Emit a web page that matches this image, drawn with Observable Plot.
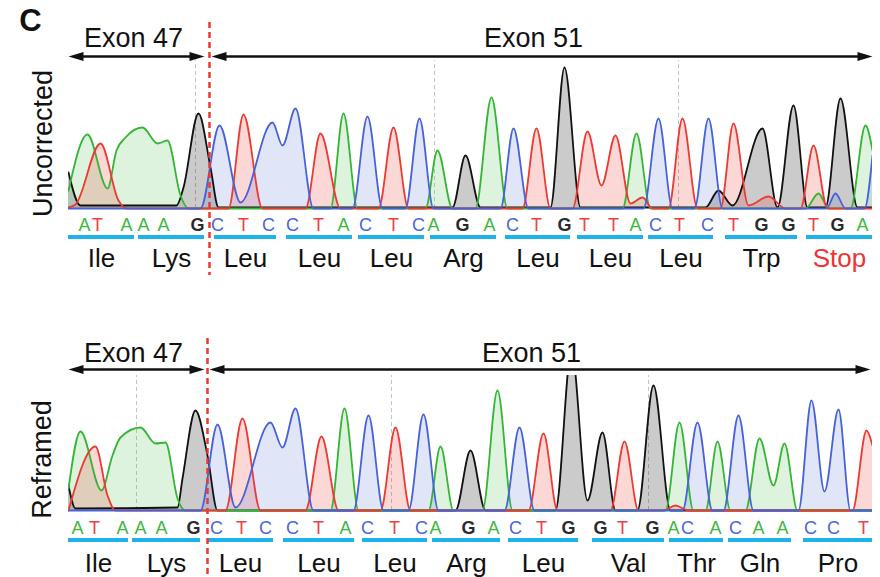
<!DOCTYPE html>
<html><head><meta charset="utf-8">
<script src="https://cdn.jsdelivr.net/npm/d3@7"></script>
<script src="https://cdn.jsdelivr.net/npm/@observablehq/plot@0.6"></script>
<style>body{margin:0;background:#fff;} #chart svg{display:block;}</style>
</head><body><div id="chart"></div>
<script>
// ---------- DATA (scan position, signal intensity) ----------
// Uncorrected trace
const topTraceA = [[0,18],[19,74],[39,20],[48,58],[57,71],[74,81],[89,65],[99,68],[112,13],[120,0],[262,0],[275,95],[289,0],[357,0],[369,58],[384,0],[407,0],[423,111],[439,0],[554,0],[568,75],[582,0],[737,0],[750,15],[760,0],[782,0],[797,83],[804,58]];
const topTraceT = [[0,1],[7,4],[32,65],[50,8],[58,0],[160,0],[175,94],[194,0],[237,0],[252,75],[272,0],[310,0],[325,81],[340,0],[454,0],[468,80],[482,0],[504,0],[519,77],[533,23],[547,73],[562,5],[574,11],[584,0],[600,0],[614,90],[629,0],[652,0],[665,85],[680,3],[700,12],[717,0],[732,0],[745,63],[759,0],[804,0]];
const topTraceC = [[0,0],[132,0],[151,83],[172,6],[204,86],[214,63],[227,100],[245,0],[284,0],[299,92],[314,0],[337,0],[351,90],[365,0],[432,0],[445,80],[460,0],[575,0],[590,90],[604,0],[626,0],[640,90],[654,0],[758,0],[767,15],[777,0],[796,0],[804,53]];
const topTraceG = [[0,36],[12,3],[108,3],[115,21],[130,95],[142,41],[150,1],[384,1],[397,53],[412,1],[482,1],[496,141],[512,1],[637,1],[650,18],[664,3],[694,80],[709,1],[725,103],[739,1],[757,1],[772,110],[789,1],[804,1]];
const topBases = "ATAAAGCTCCTACTCAGACTGTTACTCTGGTGA";
const topBasePos = [16,29,58,75,95,129,149,175,200,224,250,275,297,325,350,365,394,421,444,468,496,516,545,567,587,611,639,665,693,720,745,769,794];
const topAmino = ["Ile","Lys","Leu","Leu","Leu","Arg","Leu","Leu","Leu","Trp","Stop"];
const topCodonStart = [0,70,146,218,290,362,437,509,580,657,738];
const topCodonEnd = [66,136,208,284,356,428,502,575,645,729,804];
const topExonNames = ["Exon 47","Exon 51"];
const topExonStart = [0,143];
const topExonEnd = [136,804];
const topGuides = [127,366,610];
const topJunction = 141;

// Reframed trace
const botTraceA = [[0,22],[12,79],[33,20],[44,55],[52,73],[72,83],[87,67],[97,68],[109,12],[117,0],[262,0],[276,102],[290,0],[360,0],[372,64],[385,0],[414,0],[429,120],[444,0],[597,0],[611,88],[625,0],[637,0],[649,69],[662,0],[677,0],[691,72],[705,25],[716,67],[729,0],[804,0]];
const botTraceT = [[0,0],[27,64],[39,15],[47,0],[157,0],[174,92],[192,0],[237,0],[253,74],[270,0],[312,0],[327,83],[342,0],[460,0],[475,77],[489,0],[542,0],[556,69],[570,0],[595,0],[607,5],[620,0],[784,0],[798,80],[804,65]];
const botTraceC = [[0,0],[132,0],[149,86],[167,3],[202,88],[214,63],[227,102],[245,0],[285,0],[300,95],[315,0],[340,0],[355,96],[370,0],[436,0],[451,83],[466,0],[614,0],[629,88],[644,0],[655,0],[670,95],[685,0],[730,0],[743,110],[756,19],[770,101],[782,0],[804,0]];
const botTraceG = [[0,25],[7,2],[109,3],[114,32],[127,100],[139,55],[149,0],[387,0],[402,60],[417,0],[487,0],[503,160],[519,10],[534,78],[547,0],[569,0],[585,125],[602,0],[804,0]];
const botBases = "ATAAAGCTCCTACTCAGACTGGTGACACAACCT";
const botBasePos = [9,26,54,72,93,125,148,173,197,224,250,277,299,326,353,367,400,425,447,473,500,532,554,584,605,619,647,667,690,714,742,765,795];
const botAmino = ["Ile","Lys","Leu","Leu","Leu","Arg","Leu","Val","Thr","Gln","Pro"];
const botCodonStart = [0,64,139,215,294,364,440,524,601,660,735];
const botCodonEnd = [60,132,205,286,359,432,510,596,655,723,804];
const botExonNames = ["Exon 47","Exon 51"];
const botExonStart = [0,141];
const botExonEnd = [136,802];
const botGuides = [68,323,580];
const botJunction = 139;

// ---------- STYLE ----------
const lineColor = {A:"#35b535", T:"#ec3a32", C:"#4762d8", G:"#111111"};
const fillOpacity = {A:0.17, T:0.2, C:0.17, G:0.22};
const letterColor = {A:"#3cb83c", T:"#ee4040", C:"#4a66dc", G:"#2a2a2a"};
const FONT = "Liberation Sans, Arial, Helvetica, sans-serif";

const rightHead = {draw(ctx){ctx.moveTo(0,0);ctx.lineTo(-15,-4.5);ctx.lineTo(-15,4.5);ctx.closePath();}};
const leftHead = {draw(ctx){ctx.moveTo(0,0);ctx.lineTo(15,-4.5);ctx.lineTo(15,4.5);ctx.closePath();}};

function panel(cfg) {
  const traces = [["G", cfg.G], ["A", cfg.A], ["T", cfg.T], ["C", cfg.C]];
  const bases = cfg.bases.split("").map((b, i) => ({base: b, pos: cfg.basePos[i]}));
  const codons = cfg.amino.map((a, i) => ({aa: a, x1: cfg.codonStart[i], x2: cfg.codonEnd[i]}));
  const exons = cfg.exonNames.map((n, i) => ({name: n, x1: cfg.exonStart[i], x2: cfg.exonEnd[i]}));
  const marks = [];
  marks.push(Plot.ruleX(cfg.guides, {y1: 0, y2: cfg.ymax, stroke: "#c4c4c4", strokeWidth: 1, strokeDasharray: "4,3"}));
  for (const [b, pts] of traces) {
    marks.push(Plot.areaY(pts, {x: d => d[0], y: d => d[1], curve: "monotone-x", fill: lineColor[b], fillOpacity: fillOpacity[b], clip: true}));
  }
  for (const [b, pts] of traces) {
    marks.push(Plot.line(pts, {x: d => d[0], y: d => d[1], curve: "monotone-x", stroke: lineColor[b], strokeWidth: 1.8, clip: true}));
  }
  marks.push(Plot.text(bases.filter(d => d.base !== "G"), {x: "pos", y: cfg.rowBase, text: "base", fill: d => letterColor[d.base], fontSize: 18, fontFamily: FONT}));
  marks.push(Plot.text(bases.filter(d => d.base === "G"), {x: "pos", y: cfg.rowBase, text: "base", fill: d => letterColor[d.base], fontSize: 18, fontWeight: "bold", fontFamily: FONT}));
  marks.push(Plot.ruleY(codons, {x1: "x1", x2: "x2", y: cfg.rowBar, stroke: "#1cb2ea", strokeWidth: 4}));
  marks.push(Plot.text(codons, {x: d => (d.x1 + d.x2) / 2, y: cfg.rowAmino, text: "aa", fill: d => d.aa === "Stop" ? "#ee3333" : "#111", fontSize: 26, fontFamily: FONT}));
  marks.push(Plot.ruleY(exons, {x1: "x1", x2: "x2", y: cfg.rowArrow, stroke: "#111", strokeWidth: 2.5, insetLeft: 8, insetRight: 8}));
  marks.push(Plot.dot(exons, {x: "x1", y: cfg.rowArrow, symbol: leftHead, fill: "#111", stroke: "none"}));
  marks.push(Plot.dot(exons, {x: "x2", y: cfg.rowArrow, symbol: rightHead, fill: "#111", stroke: "none"}));
  marks.push(Plot.text(exons, {x: d => d.x1 + (d.name === "Exon 47" ? 65 : 322), y: cfg.rowExon, text: "name", fill: "#111", fontSize: 27, fontFamily: FONT}));
  marks.push(Plot.ruleX([cfg.junction], {y1: cfg.junctionTop, y2: cfg.junctionBottom, stroke: "#e83a32", strokeWidth: 2.5, strokeDasharray: "6,4"}));
  marks.push(Plot.text([cfg.label], {x: cfg.labelX, y: cfg.labelY, text: d => d, rotate: -90, fill: "#111", fontSize: 27, fontFamily: FONT}));
  if (cfg.panelLetter) {
    marks.push(Plot.text([cfg.panelLetter], {x: -38, y: cfg.ymax + 39, text: d => d, fill: "#111", fontSize: 31, fontWeight: "bold", fontFamily: FONT}));
  }
  return Plot.plot({
    width: 880, height: cfg.height,
    marginLeft: 68, marginRight: 8, marginTop: cfg.marginTop, marginBottom: cfg.marginBottom,
    x: {domain: [0, 804], axis: null},
    y: {domain: [-3, cfg.ymax], axis: null},
    color: {type: "identity"},
    style: {fontFamily: FONT, background: "#fff", overflow: "visible"},
    marks
  });
}

const uncorrectedPlot = panel({
  A: topTraceA, T: topTraceT, C: topTraceC, G: topTraceG,
  bases: topBases, basePos: topBasePos, amino: topAmino, codonStart: topCodonStart, codonEnd: topCodonEnd,
  exonNames: topExonNames, exonStart: topExonStart, exonEnd: topExonEnd, guides: topGuides, junction: topJunction,
  ymax: 148, height: 289, marginTop: 60, marginBottom: 78,
  rowBase: -17, rowBar: -28.5, rowAmino: -50, rowArrow: 152, rowExon: 170,
  junctionTop: 186, junctionBottom: -67, label: "Uncorrected", labelX: -25, labelY: 65, panelLetter: "C"
});
const reframedPlot = panel({
  A: botTraceA, T: botTraceT, C: botTraceC, G: botTraceG,
  bases: botBases, basePos: botBasePos, amino: botAmino, codonStart: botCodonStart, codonEnd: botCodonEnd,
  exonNames: botExonNames, exonStart: botExonStart, exonEnd: botExonEnd, guides: botGuides, junction: botJunction,
  ymax: 135, height: 288, marginTop: 86, marginBottom: 64,
  rowBase: -18, rowBar: -29.5, rowAmino: -53, rowArrow: 141, rowExon: 157,
  junctionTop: 172, junctionBottom: -67, label: "Reframed", labelX: -26, labelY: 51
});
document.getElementById("chart").append(uncorrectedPlot, reframedPlot);
</script>
</body></html>
